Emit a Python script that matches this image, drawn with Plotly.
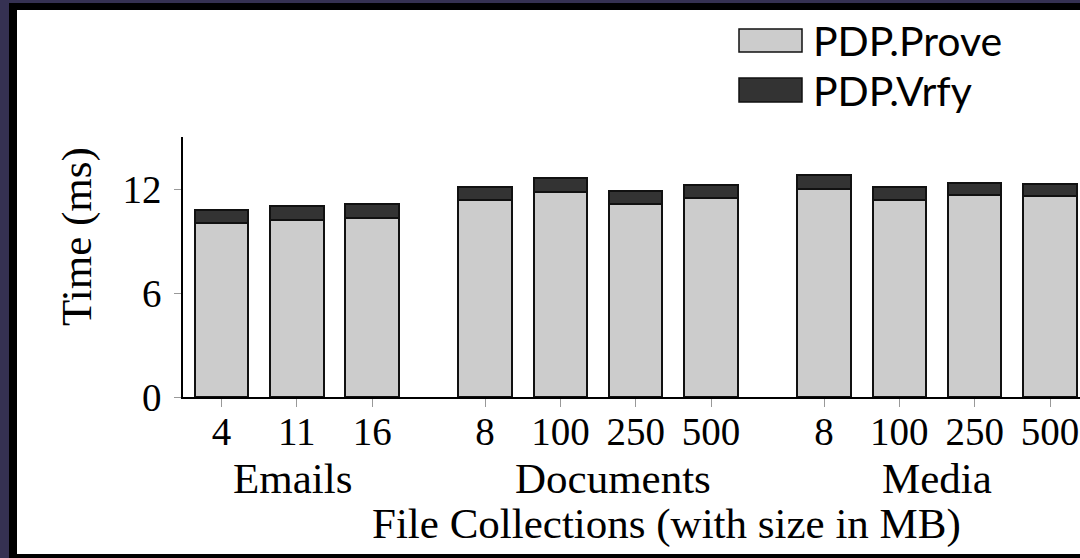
import plotly.graph_objects as go

# ---- data ----
groups = ["Emails", "Documents", "Media"]
sizes = [["4", "11", "16"], ["8", "100", "250", "500"], ["8", "100", "250", "500"]]
prove = [[10.04, 10.19, 10.35], [11.35, 11.85, 11.15, 11.48], [12.00, 11.35, 11.67, 11.60]]
vrfy = [[0.75, 0.82, 0.79], [0.78, 0.79, 0.74, 0.77], [0.79, 0.78, 0.70, 0.71]]
y_ticks = [0, 6, 12]

# ---- layout constants ----
W, H = 1080, 558
ML, MR, MT, MB = 183, 0, 137, 161
GAP = 1.5  # distance between groups, in slot units
PW, PH = W - ML - MR, H - MT - MB

def px(x):
    return (x - ML) / PW

def py(y):
    return (H - MB - y) / PH

# x positions per bar
xs, labels, centers = [], [], []
pos = 0.0
for g, s in zip(groups, sizes):
    start = pos
    for lab in s:
        xs.append(pos)
        labels.append(lab)
        pos += 1
    centers.append((start + pos - 1) / 2)
    pos += GAP - 1

flat_prove = [v for g in prove for v in g]
flat_vrfy = [v for g in vrfy for v in g]

serif = "Liberation Serif"
sans = "Lato"
fs_tick = 39
fs_lab = 43

fig = go.Figure()
fig.add_trace(go.Bar(x=xs, y=flat_prove, name="PDP.Prove", width=0.71,
                     marker=dict(color="#cccccc", line=dict(color="#111111", width=2))))
fig.add_trace(go.Bar(x=xs, y=flat_vrfy, name="PDP.Vrfy", width=0.71,
                     marker=dict(color="#333333", line=dict(color="#111111", width=2))))

x0 = xs[0]
unit = (1050 - 221.5) / (xs[-1] - xs[0])
xr = [x0 - (221.5 - ML) / unit, x0 + (W - MR - 221.5) / unit]

fig.update_layout(
    width=W, height=H, barmode="stack", bargap=0,
    margin=dict(l=ML, r=MR, t=MT, b=MB, pad=0),
    paper_bgcolor="white", plot_bgcolor="white",
    showlegend=False,
    xaxis=dict(range=xr, tickvals=xs, ticktext=labels, showline=True, linecolor="black",
               linewidth=1.5, ticks="outside", ticklen=8, tickcolor="#999999", tickwidth=1.2,
               showgrid=False, zeroline=False,
               tickfont=dict(family=serif, size=fs_tick, color="black"), ticklabelstandoff=-9),
    yaxis=dict(range=[0, 15], tickvals=y_ticks, showline=True, linecolor="black",
               linewidth=1.5, ticks="outside", ticklen=7, tickcolor="#999999", tickwidth=1.2,
               showgrid=False, zeroline=False,
               tickfont=dict(family=serif, size=fs_tick, color="black"), ticklabelstandoff=5),
)

ann = []
label_shift = [-4, 15, 0]
for g, c, sh in zip(groups, centers, label_shift):
    ann.append(dict(x=c, y=py(478), xref="x", yref="paper", text=g, showarrow=False,
                    xanchor="center", yanchor="middle", xshift=sh,
                    font=dict(family=serif, size=fs_lab, color="black")))
ann.append(dict(x=px(666), y=py(524), xref="paper", yref="paper",
                text="File Collections (with size in MB)", showarrow=False,
                xanchor="center", yanchor="middle",
                font=dict(family=serif, size=fs_lab, color="black")))
ann.append(dict(x=px(77), y=py(237), xref="paper", yref="paper", text="Time (ms)",
                textangle=-90, showarrow=False, xanchor="center", yanchor="middle",
                font=dict(family=serif, size=fs_lab, color="black")))

# custom legend
shapes = []
leg = [("PDP.Prove", "#cccccc", 29, 52), ("PDP.Vrfy", "#333333", 78, 102)]
for name, col, y0, y1 in leg:
    shapes.append(dict(type="rect", xref="paper", yref="paper", x0=px(739), x1=px(802),
                       y0=py(y1), y1=py(y0), fillcolor=col, line=dict(color="#111111", width=1.5)))
    ann.append(dict(x=px(811), y=py((y0 + y1) / 2), xref="paper", yref="paper", text=name,
                    showarrow=False, xanchor="left", yanchor="middle",
                    font=dict(family=sans, size=41, color="black")))

# frame around the picture
purple = "#353152"
shapes += [
    dict(type="rect", xref="paper", yref="paper", x0=px(0), x1=px(9), y0=py(H), y1=py(0),
         fillcolor=purple, line=dict(width=0), layer="above"),
    dict(type="rect", xref="paper", yref="paper", x0=px(0), x1=px(W), y0=py(3), y1=py(0),
         fillcolor=purple, line=dict(width=0), layer="above"),
    dict(type="rect", xref="paper", yref="paper", x0=px(9), x1=px(17), y0=py(H), y1=py(3),
         fillcolor="black", line=dict(width=0), layer="above"),
    dict(type="rect", xref="paper", yref="paper", x0=px(9), x1=px(W), y0=py(10), y1=py(3),
         fillcolor="black", line=dict(width=0), layer="above"),
    dict(type="rect", xref="paper", yref="paper", x0=px(9), x1=px(W), y0=py(H), y1=py(554),
         fillcolor="black", line=dict(width=0), layer="above"),
]
fig.update_layout(annotations=ann, shapes=shapes)
fig.write_html("out.html", config={"displayModeBar": False},
               post_script="document.body.style.margin='0';document.body.style.overflow='hidden';")
